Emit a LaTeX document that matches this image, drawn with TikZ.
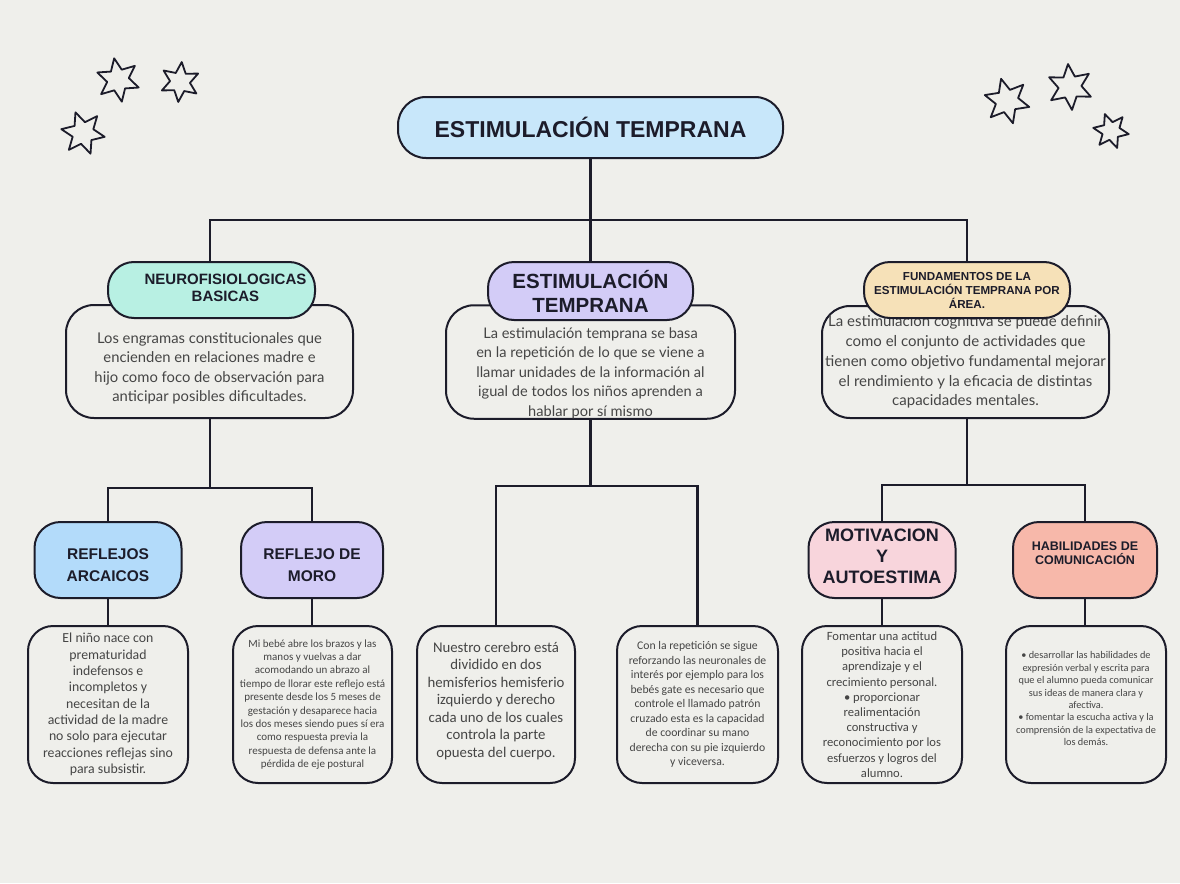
\documentclass[tikz,border=0pt]{standalone}
\usepackage{fontspec}
\setmainfont{Liberation Sans}
\newfontfamily\bodyfont{Lato}
\newfontfamily\smallfont{Carlito}
\definecolor{fondo}{HTML}{EFEFEB}
\definecolor{azulT}{HTML}{C8E7FA}
\definecolor{menta}{HTML}{B8F0E3}
\definecolor{lila}{HTML}{D3CCF7}
\definecolor{arena}{HTML}{F6E1B8}
\definecolor{azulR}{HTML}{B3DBFA}
\definecolor{rosa}{HTML}{F8D5DC}
\definecolor{salmon}{HTML}{F7B8AA}
\definecolor{tinta}{HTML}{1C1C2A}
\definecolor{gris}{HTML}{454545}
\begin{document}
\begin{tikzpicture}[x=1pt, y=-1pt, line width=2pt,
    head/.style={draw=tinta, rounded corners=26pt, align=center, text=tinta,
      font=\bfseries, inner sep=0pt},
    body/.style={draw=tinta, fill=fondo, rounded corners=28pt, align=center,
      text=gris, inner sep=0pt},
    conn/.style={draw=tinta, line width=2.4pt},
    starline/.style={draw=tinta, line width=1.8pt, line join=round}]
  \useasboundingbox[fill=fondo] (0,0) rectangle (1180,883);
  % estrellas
  \foreach \sx/\sy/\sr/\sa in {118/80/22/80, 180/82/20/95, 83/133/22/70,
      1007/101/23/75, 1070/87/23/85, 1111/131/18/70} {
    \draw[starline, shift={(\sx,\sy)}] (\sa:\sr)
      \foreach \k in {0,...,5} { -- ({\sa+\k*60}:\sr) -- ({\sa+\k*60+30}:{\sr*0.5}) } -- cycle;
  }
  % titulo
  \node[head, fill=azulT, minimum width=385pt, minimum height=61pt, rounded corners=28pt,
    font=\fontsize{23}{26}\selectfont\bfseries] (titulo) at (590.5,127.5) {ESTIMULACIÓN TEMPRANA};
  % segundo nivel
  \node[body, minimum width=287pt, minimum height=113pt, font=\bodyfont\fontsize{14.8}{19.5}\selectfont]
    (neuroBody) at (209.5,361.5) {\rule{0pt}{25pt}Los engramas constitucionales que\\encienden en relaciones madre e\\hijo como foco de observación para\\anticipar posibles dificultades.};
  \node[body, minimum width=289pt, minimum height=112pt, font=\bodyfont\fontsize{14.6}{19.5}\selectfont]
    (midBody) at (590.5,362) {\rule{0pt}{33pt}La estimulación temprana se basa\\en la repetición de lo que se viene a\\llamar unidades de la información al\\igual de todos los niños aprenden a\\hablar por sí mismo};
  \node[body, minimum width=287pt, minimum height=112pt, font=\bodyfont\fontsize{15}{19.8}\selectfont]
    (fundBody) at (965.5,362) {La estimulación cognitiva se puede definir\\como el conjunto de actividades que\\tienen como objetivo fundamental mejorar\\el rendimiento y la eficacia de distintas\\capacidades mentales.};
  \node[head, fill=menta, minimum width=207pt, minimum height=56pt,
    font=\fontsize{15}{17}\selectfont\bfseries] (neuroHead) at (211.5,290)
    {\hspace*{28pt}\begin{tabular}{@{}c@{}}NEUROFISIOLOGICAS\\BASICAS\end{tabular}};
  \node[head, fill=lila, minimum width=205pt, minimum height=58pt,
    font=\fontsize{20.5}{24}\selectfont\bfseries] (midHead) at (590.5,291) {ESTIMULACIÓN\\TEMPRANA};
  \node[head, fill=arena, minimum width=206pt, minimum height=56pt,
    font=\fontsize{11.6}{14}\selectfont\bfseries] (fundHead) at (967,290) {FUNDAMENTOS DE LA\\ESTIMULACIÓN TEMPRANA POR\\ÁREA.};
  % tercer nivel
  \node[head, fill=azulR, minimum width=147pt, minimum height=76pt,
    font=\fontsize{15.5}{22}\selectfont\bfseries] (arcaicos) at (108,560) {\rule{0pt}{21pt}REFLEJOS\\ARCAICOS};
  \node[head, fill=lila, minimum width=142pt, minimum height=76pt,
    font=\fontsize{15.5}{22}\selectfont\bfseries] (moro) at (312,560) {\rule{0pt}{21pt}REFLEJO DE\\MORO};
  \node[head, fill=rosa, minimum width=147pt, minimum height=76pt,
    font=\fontsize{18}{21}\selectfont\bfseries] (motiv) at (882,560) {MOTIVACION\\Y\\AUTOESTIMA\\[-13pt]\mbox{}};
  \node[head, fill=salmon, minimum width=144pt, minimum height=76pt,
    font=\fontsize{12.5}{14}\selectfont\bfseries] (habil) at (1085,560) {HABILIDADES DE\\COMUNICACIÓN\\[0pt]\mbox{}};
  % cuarto nivel
  \node[body, minimum width=160pt, minimum height=157pt, rounded corners=25pt,
    font=\smallfont\fontsize{13.8}{16.3}\selectfont] (cajaA) at (108,704.5)
    {El niño nace con\\prematuridad\\indefensos e\\incompletos y\\necesitan de la\\actividad de la madre\\no solo para ejecutar\\reacciones reflejas sino\\para subsistir.};
  \node[body, minimum width=159pt, minimum height=157pt, rounded corners=25pt,
    font=\smallfont\fontsize{11}{13.4}\selectfont] (cajaB) at (312.5,704.5)
    {Mi bebé abre los brazos y las\\manos y vuelvas a dar\\acomodando un abrazo al\\tiempo de llorar este reflejo está\\presente desde los 5 meses de\\gestación y desaparece hacia\\los dos meses siendo pues sí era\\como respuesta previa la\\respuesta de defensa ante la\\pérdida de eje postural};
  \node[body, minimum width=158pt, minimum height=157pt, rounded corners=25pt,
    font=\smallfont\fontsize{14.8}{17.5}\selectfont] (cajaC) at (496,704.5)
    {Nuestro cerebro está\\dividido en dos\\hemisferios hemisferio\\izquierdo y derecho\\cada uno de los cuales\\controla la parte\\opuesta del cuerpo.\\[-8pt]\mbox{}};
  \node[body, minimum width=161pt, minimum height=157pt, rounded corners=25pt,
    font=\smallfont\fontsize{11.7}{14.5}\selectfont] (cajaD) at (697.5,704.5)
    {Con la repetición se sigue\\reforzando las neuronales de\\interés por ejemplo para los\\bebés gate es necesario que\\controle el llamado patrón\\cruzado esta es la capacidad\\de coordinar su mano\\derecha con su pie izquierdo\\y viceversa.};
  \node[body, minimum width=160pt, minimum height=157pt, rounded corners=25pt,
    font=\smallfont\fontsize{12.6}{15.2}\selectfont] (cajaE) at (882,704.5)
    {Fomentar una actitud\\positiva hacia el\\aprendizaje y el\\crecimiento personal.\\• proporcionar\\realimentación\\constructiva y\\reconocimiento por los\\esfuerzos y logros del\\alumno.};
  \node[body, minimum width=160pt, minimum height=157pt, rounded corners=25pt,
    font=\smallfont\fontsize{10.3}{12.4}\selectfont] (cajaF) at (1086,704.5)
    {• desarrollar las habilidades de\\expresión verbal y escrita para\\que el alumno pueda comunicar\\sus ideas de manera clara y\\afectiva.\\• fomentar la escucha activa y la\\comprensión de la expectativa de\\los demás.\\[-1pt]\mbox{}};
  % conectores
  \coordinate (busA) at (590.5,220);
  \coordinate (busB) at (210,488);
  \coordinate (busC) at (590.5,486);
  \coordinate (busD) at (967,485);
  \draw[conn] (titulo.south) -- (busA);
  \draw[conn] (busA) -- (midHead.north);
  \draw[conn] (neuroHead.north -| busB) |- (busA) -| (fundHead.north);
  \draw[conn] (neuroBody.south -| busB) -- (busB);
  \draw[conn] (arcaicos.north) |- (busB) -| (moro.north);
  \draw[conn] (midBody.south) -- (busC);
  \draw[conn] (cajaC.north) |- (busC) -| (cajaD.north);
  \draw[conn] (fundBody.south -| busD) -- (busD);
  \draw[conn] (motiv.north) |- (busD) -| (habil.north);
  \draw[conn] (arcaicos.south) -- (arcaicos.south |- cajaA.north);
  \draw[conn] (moro.south) -- (moro.south |- cajaB.north);
  \draw[conn] (motiv.south) -- (motiv.south |- cajaE.north);
  \draw[conn] (habil.south) -- (habil.south |- cajaF.north);
\end{tikzpicture}
\end{document}
